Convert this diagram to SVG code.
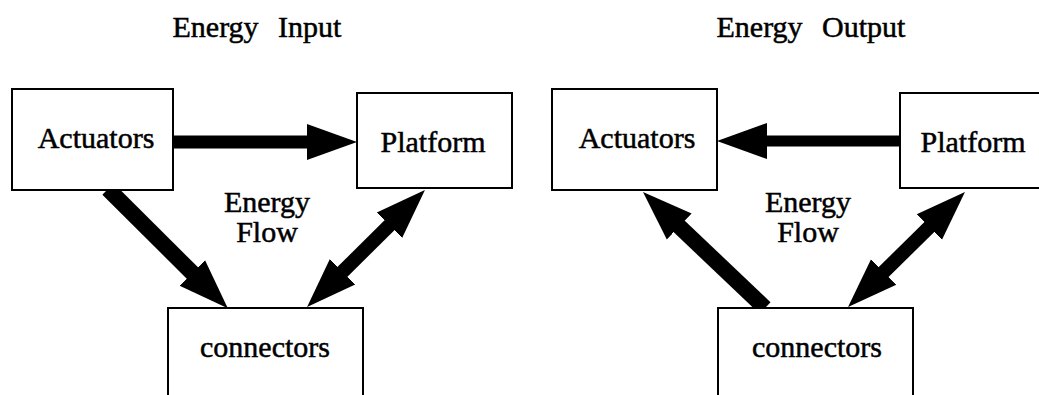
<svg xmlns="http://www.w3.org/2000/svg" width="1039" height="395" viewBox="0 0 1039 395">
  <style>
    .box { fill: #fff; stroke: #000; stroke-width: 2; }
    .lbl { font-family: "Liberation Serif", "Times New Roman", serif; font-size: 30px; fill: #000; stroke: #000; stroke-width: 0.5; text-anchor: middle; }
    .ttl { font-family: "Liberation Serif", "Times New Roman", serif; font-size: 30px; fill: #000; stroke: #000; stroke-width: 0.5; text-anchor: middle; word-spacing: 12px; }
    .flow { fill: none; stroke: #000; stroke-width: 13; stroke-linecap: butt; }
    .flow.diag { stroke-width: 16; }
    .flow.both { stroke-width: 14; }
    .flow.thin { stroke-width: 11; }
  </style>
  <defs>
    <!-- arrowhead: 50 long, 36 wide; the shaft tucks 5px into its base -->
    <marker id="head" markerUnits="userSpaceOnUse" markerWidth="52" markerHeight="38" viewBox="0 0 52 38" refX="5" refY="19" orient="auto-start-reverse">
      <path d="M0,1 L50,19 L0,37 Z" fill="#000"/>
    </marker>
  </defs>

  <!-- titles -->
  <text class="ttl" x="257" y="37">Energy Input</text>
  <text class="ttl" x="811" y="37">Energy Output</text>

  <!-- connectors -->
  <g id="connectors">
    <!-- input side -->
    <line class="flow" x1="173" y1="142" x2="312" y2="142" marker-end="url(#head)"/>
    <line class="flow diag" x1="108" y1="189" x2="195.9" y2="276.5" marker-end="url(#head)"/>
    <line class="flow both" x1="393" y1="221.7" x2="339" y2="275.3" marker-start="url(#head)" marker-end="url(#head)"/>
    <!-- output side -->
    <line class="flow thin" x1="900" y1="141" x2="762" y2="141" marker-end="url(#head)"/>
    <line class="flow diag" x1="765" y1="308" x2="675.6" y2="223" marker-end="url(#head)"/>
    <line class="flow both" x1="932.9" y1="223.5" x2="880.1" y2="275.5" marker-start="url(#head)" marker-end="url(#head)"/>
  </g>

  <!-- input-side nodes -->
  <g id="in-actuators">
    <rect class="box" x="12" y="89" width="161" height="101"/>
    <text class="lbl" x="96" y="148">Actuators</text>
  </g>
  <g id="in-platform">
    <rect class="box" x="357" y="93" width="155" height="95"/>
    <text class="lbl" x="433" y="152">Platform</text>
  </g>
  <g id="in-connectors">
    <rect class="box" x="168" y="308" width="195" height="110"/>
    <text class="lbl" x="265" y="357">connectors</text>
  </g>
  <text class="lbl" x="267" y="212">Energy</text>
  <text class="lbl" x="267" y="242">Flow</text>

  <!-- output-side nodes -->
  <g id="out-actuators">
    <rect class="box" x="552" y="89" width="165" height="101"/>
    <text class="lbl" x="637" y="148">Actuators</text>
  </g>
  <g id="out-platform">
    <rect class="box" x="900" y="93" width="150" height="95"/>
    <text class="lbl" x="973" y="152">Platform</text>
  </g>
  <g id="out-connectors">
    <rect class="box" x="718" y="308" width="195" height="110"/>
    <text class="lbl" x="817" y="357">connectors</text>
  </g>
  <text class="lbl" x="808" y="212">Energy</text>
  <text class="lbl" x="808" y="242">Flow</text>
</svg>
